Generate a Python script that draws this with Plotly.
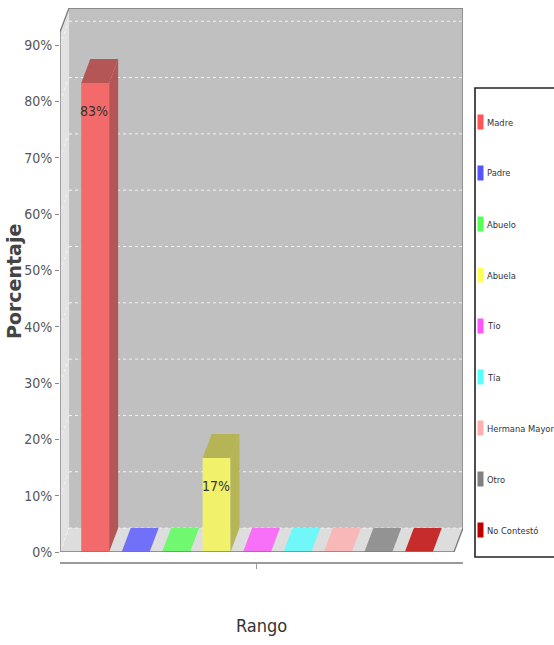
import plotly.graph_objects as go

# ---------------- data ----------------
categories = ["Madre", "Padre", "Abuelo", "Abuela", "Tío", "Tía",
              "Hermana Mayor", "Otro", "No Contestó"]
values = [83.3, 0, 0, 16.7, 0, 0, 0, 0, 0]
value_labels = ["83%", "", "", "17%", "", "", "", "", ""]
base_colors = [(255, 85, 85), (85, 85, 255), (85, 255, 85), (255, 255, 85),
               (255, 85, 255), (85, 255, 255), (255, 175, 175), (128, 128, 128),
               (192, 0, 0)]
y_tick_values = [0, 10, 20, 30, 40, 50, 60, 70, 80, 90]
y_tick_labels = ["0%", "10%", "20%", "30%", "40%", "50%", "60%", "70%", "80%", "90%"]
x_title = "Rango"
y_title = "Porcentaje"

# ---------------- styling / geometry ----------------
NARROW = "Liberation Sans Narrow, DejaVu Sans Condensed, Liberation Sans, sans-serif"
W, H = 554, 645
PL, PR, PT, PB = 60, 463, 8, 563          # paper box in pixels (x0, x1, top, bottom)
FLOOR_PX = 552                             # pixel of y=0 (front)
n = len(categories)
PAD = 0.87
DX = 0.223          # depth offset in category units
DY = 4.25           # depth offset in % units
BW = 0.69           # bar width
YMAX = 96.6
xmin, xmax = -PAD, n - 1 + PAD + DX


def blend(c, bg, a=0.8):
    return "rgb(%d,%d,%d)" % tuple(round(a * ci + (1 - a) * bg) for ci in c)


def darker(c):
    return tuple(int(ci * 0.7) for ci in c)


def px2paper_x(px):
    return (px - PL) / (PR - PL)


def px2paper_y(py):
    return (PB - py) / (PB - PT)


def poly(pts):
    return "M " + " L ".join("%f,%f" % p for p in pts) + " Z"


WALL = 192
FLOOR = 221

fig = go.Figure()

# front faces of the bars
fig.add_trace(go.Bar(
    x=list(range(n)), y=values, width=[BW] * n,
    marker=dict(color=[blend(c, WALL) for c in base_colors], line=dict(width=0)),
    hoverinfo="skip", showlegend=False,
))

# 3D top / side faces derived from the values
for i, (v, c) in enumerate(zip(values, base_colors)):
    x0, x1 = i - BW / 2, i + BW / 2
    if v > 0:
        side_col = blend(darker(c), WALL)
        fig.add_trace(go.Scatter(
            x=[x1, x1 + DX, x1 + DX, x1, x1], y=[0, DY, v + DY, v, 0],
            mode="lines", fill="toself", fillcolor=side_col,
            line=dict(width=0, color=side_col), hoverinfo="skip", showlegend=False))
        fig.add_trace(go.Scatter(
            x=[x0, x1, x1 + DX, x0 + DX, x0], y=[v, v, v + DY, v + DY, v],
            mode="lines", fill="toself", fillcolor=side_col,
            line=dict(width=0, color=side_col), hoverinfo="skip", showlegend=False))
    else:
        col = blend(c, FLOOR)
        fig.add_trace(go.Scatter(
            x=[x0, x1, x1 + DX, x0 + DX, x0], y=[v, v, v + DY, v + DY, v],
            mode="lines", fill="toself", fillcolor=col,
            line=dict(width=0, color=col), hoverinfo="skip", showlegend=False))

shapes = []
# back wall
shapes.append(dict(type="path", xref="x", yref="y", layer="below",
                   path=poly([(xmin + DX, DY), (xmax, DY), (xmax, YMAX), (xmin + DX, YMAX)]),
                   fillcolor="#c0c0c0", line=dict(width=0)))
# left wall
shapes.append(dict(type="path", xref="x", yref="y", layer="below",
                   path=poly([(xmin, 0), (xmin + DX, DY), (xmin + DX, YMAX), (xmin, YMAX - DY)]),
                   fillcolor="#e2e2e2", line=dict(width=0)))
# floor
shapes.append(dict(type="path", xref="x", yref="y", layer="below",
                   path=poly([(xmin, 0), (xmax - DX, 0), (xmax, DY), (xmin + DX, DY)]),
                   fillcolor="#dddddd", line=dict(width=0)))
# grid lines on back wall
for t in y_tick_values:
    shapes.append(dict(type="line", xref="x", yref="y", layer="below",
                       x0=xmin + DX, x1=xmax, y0=t + DY, y1=t + DY,
                       line=dict(color="#f2f2f2", width=1, dash="dot")))
    shapes.append(dict(type="line", xref="x", yref="y", layer="below",
                       x0=xmin, x1=xmin + DX, y0=t, y1=t + DY,
                       line=dict(color="#f4f4f4", width=1, dash="dot")))
# outline
shapes.append(dict(type="path", xref="x", yref="y", layer="above",
                   path="M %f,%f L %f,%f L %f,%f L %f,%f L %f,%f L %f,%f Z" % (
                       xmin, 0, xmin, YMAX - DY, xmin + DX, YMAX, xmax, YMAX,
                       xmax, DY, xmax - DX, 0),
                   line=dict(color="#7a7a7a", width=1.3)))

# legend (manual)
LEG_TOP, LEG_BOT = 88, 557
shapes.append(dict(type="rect", xref="paper", yref="paper",
                   x0=px2paper_x(475), x1=px2paper_x(600),
                   y0=px2paper_y(LEG_BOT), y1=px2paper_y(LEG_TOP),
                   line=dict(color="#222222", width=1.6), fillcolor="white"))
annotations = []
for k, (name, c) in enumerate(zip(categories, base_colors)):
    yc = 122 + k * 51.0
    shapes.append(dict(type="rect", xref="paper", yref="paper",
                       x0=px2paper_x(477.5), x1=px2paper_x(483.5),
                       y0=px2paper_y(yc + 7.5), y1=px2paper_y(yc - 7.5),
                       line=dict(width=0), fillcolor="rgb(%d,%d,%d)" % c))
    annotations.append(dict(xref="paper", yref="paper", x=px2paper_x(485), y=px2paper_y(yc),
                            xanchor="left", yanchor="middle", showarrow=False, text=name,
                            font=dict(family=NARROW, size=9.3, color="#333333")))

# value labels
for i, (v, lab) in enumerate(zip(values, value_labels)):
    if lab:
        annotations.append(dict(x=i, y=v, xref="x", yref="y", text=lab, showarrow=False,
                                yshift=-28, xshift=-1, font=dict(family=NARROW, size=14, color="#333333")))

# axis titles
annotations.append(dict(xref="paper", yref="paper", x=px2paper_x(14), y=px2paper_y(282),
                        text="<b>%s</b>" % y_title, textangle=-90, showarrow=False,
                        xanchor="center", yanchor="middle",
                        font=dict(family="DejaVu Sans, Verdana, sans-serif", size=19, color="#444444")))
annotations.append(dict(xref="paper", yref="paper", x=px2paper_x(261), y=px2paper_y(625),
                        text=x_title, showarrow=False, xanchor="center", yanchor="middle",
                        font=dict(family=NARROW, size=18, color="#333333")))

fig.update_layout(
    width=W, height=H,
    margin=dict(l=PL, r=W - PR, t=PT, b=H - PB, pad=0),
    paper_bgcolor="white", plot_bgcolor="white",
    barmode="overlay", showlegend=False,
    shapes=shapes, annotations=annotations,
    xaxis=dict(range=[xmin, xmax], domain=[0, 1], anchor="free", position=0,
               showgrid=False, zeroline=False, showline=True, linecolor="#9a9a9a", linewidth=2,
               tickvals=[(n - 1) / 2], ticktext=[""], ticks="outside", ticklen=5,
               tickcolor="#9a9a9a", fixedrange=True),
    yaxis=dict(range=[0, YMAX], domain=[(PB - FLOOR_PX) / (PB - PT), 1],
               showgrid=False, zeroline=False, showline=False,
               tickvals=y_tick_values, ticktext=y_tick_labels, ticks="outside", ticklen=4,
               tickcolor="#888888", tickfont=dict(family=NARROW, size=14, color="#555555"),
               fixedrange=True),
)

fig.write_html("out.html", config={"displayModeBar": False},
               post_script="document.body.style.margin='0px';document.body.style.overflow='hidden';")
